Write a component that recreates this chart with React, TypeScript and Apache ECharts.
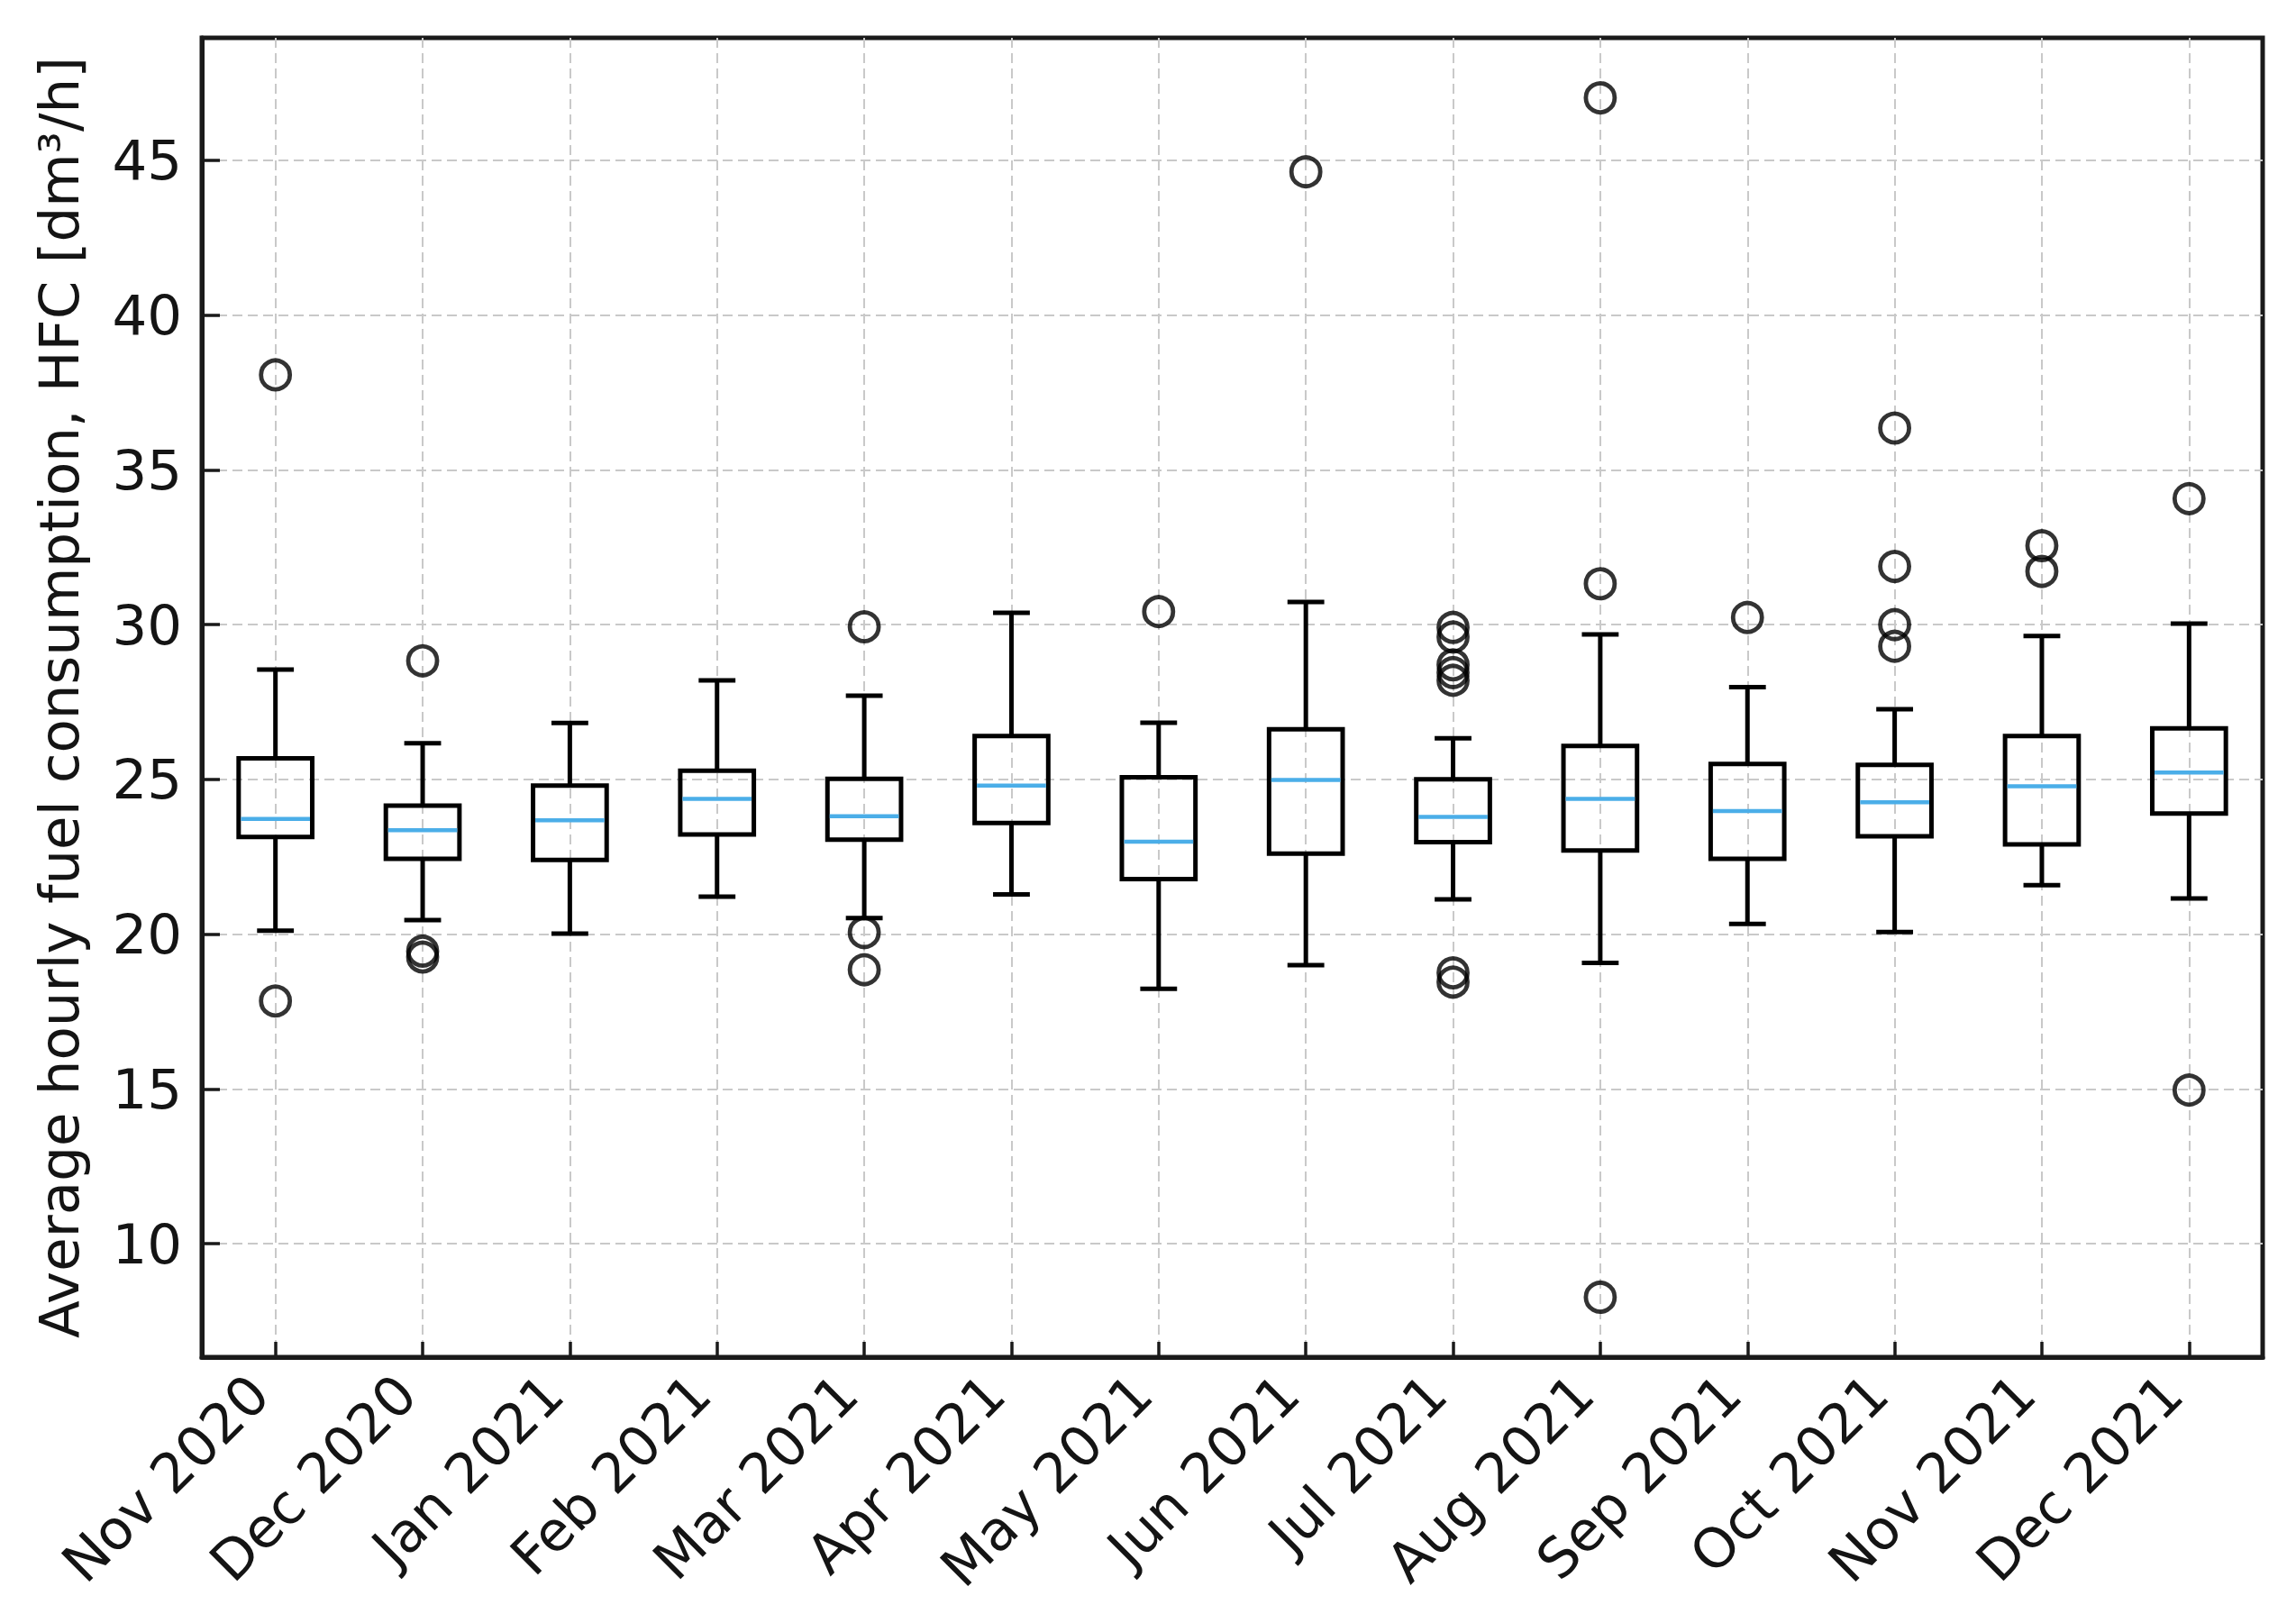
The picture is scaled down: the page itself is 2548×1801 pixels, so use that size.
import React, { useEffect, useRef } from "react";
import * as echarts from "echarts";

const categories = [
  "Nov 2020", "Dec 2020", "Jan 2021", "Feb 2021", "Mar 2021", "Apr 2021", "May 2021",
  "Jun 2021", "Jul 2021", "Aug 2021", "Sep 2021", "Oct 2021", "Nov 2021", "Dec 2021",
];
const lowerWhisker = [20.11, 20.45, 20.02, 21.21, 20.52, 21.28, 18.23, 19.0, 21.12, 19.07, 20.33, 20.07, 21.58, 21.15];
const q1 = [23.14, 22.43, 22.4, 23.22, 23.05, 23.59, 21.78, 22.6, 22.97, 22.7, 22.43, 23.16, 22.9, 23.9];
const median = [23.72, 23.36, 23.68, 24.37, 23.81, 24.8, 22.99, 24.98, 23.79, 24.37, 23.98, 24.26, 24.78, 25.22];
const q3 = [25.68, 24.15, 24.8, 25.28, 25.02, 26.4, 25.07, 26.62, 25.0, 26.08, 25.5, 25.47, 26.4, 26.65];
const upperWhisker = [28.55, 26.17, 26.82, 28.2, 27.7, 30.38, 26.83, 30.73, 26.33, 29.68, 27.98, 27.27, 29.63, 30.03];
const outliers: number[][] = [
  [38.07, 17.84],
  [28.83, 19.45, 19.26],
  [],
  [],
  [29.93, 20.05, 18.85],
  [],
  [30.42],
  [44.63],
  [29.91, 29.6, 28.7, 28.45, 28.2, 18.75, 18.45],
  [47.02, 31.32, 8.27],
  [30.23],
  [36.35, 31.88, 30.0, 29.3],
  [32.55, 31.72],
  [34.07, 14.96],
];
const yTickStep = 5;
const yAxisTitle = "Average hourly fuel consumption, HFC [dm³/h]";

const FONT = "DejaVu Sans";
const TEXT = "#141414";
const MEDIAN_COLOR = "#4BAEE8";
const GRID_COLOR = "#c9c9c9";
const FRAME = "#1a1a1a";

export default function App() {
  const ref = useRef<HTMLDivElement>(null);

  useEffect(() => {
    if (!ref.current) return;
    const chart = echarts.init(ref.current, null, { renderer: "svg" });

    const allVals: number[] = [];
    categories.forEach((_, i) => {
      allVals.push(lowerWhisker[i], upperWhisker[i], ...outliers[i]);
    });
    const dMin = Math.min(...allVals);
    const dMax = Math.max(...allVals);
    const pad = (dMax - dMin) * 0.05;

    const boxData = categories.map((_, i) => [
      i + 1, lowerWhisker[i], q1[i], median[i], q3[i], upperWhisker[i],
    ]);
    const outlierData: number[][] = [];
    outliers.forEach((arr, i) => arr.forEach((v) => outlierData.push([i + 1, v])));

    const lineW = 5;

    chart.setOption({
      animation: false,
      backgroundColor: "#ffffff",
      grid: {
        left: 224,
        right: 37,
        top: 42,
        bottom: 295,
        show: true,
        borderColor: FRAME,
        borderWidth: 5,
        backgroundColor: "transparent",
        containLabel: false,
      },
      xAxis: {
        type: "value",
        min: 0.5,
        max: categories.length + 0.5,
        minInterval: 1,
        maxInterval: 1,
        axisLine: { show: true, onZero: false, lineStyle: { color: FRAME, width: 5 } },
        axisTick: {
          show: true,
          inside: true,
          length: 17,
          lineStyle: { color: FRAME, width: 3.5 },
        },
        axisLabel: {
          show: true,
          rotate: 45,
          margin: 12,
          fontFamily: FONT,
          fontSize: 61,
          color: TEXT,
          rich: {
            t: { fontFamily: FONT, fontSize: 61, color: TEXT },
            s: { fontFamily: FONT, fontSize: 61, width: 26 },
          },
          formatter: (v: number) =>
            Number.isInteger(v) && v >= 1 && v <= categories.length ? `{t|${categories[v - 1]}}{s| }` : "",
        },
        splitLine: {
          show: true,
          showMinLine: false,
          showMaxLine: false,
          lineStyle: { color: GRID_COLOR, width: 2, type: [11, 6] },
        },
      },
      yAxis: {
        type: "value",
        min: dMin - pad,
        max: dMax + pad,
        minInterval: yTickStep,
        maxInterval: yTickStep,
        axisLine: { show: true, onZero: false, lineStyle: { color: FRAME, width: 5 } },
        axisTick: {
          show: true,
          inside: true,
          length: 20,
          lineStyle: { color: FRAME, width: 3.5 },
        },
        axisLabel: {
          margin: 22,
          fontFamily: FONT,
          fontSize: 61,
          color: TEXT,
          formatter: (v: number) =>
            Math.abs(v / yTickStep - Math.round(v / yTickStep)) < 1e-6 ? String(Math.round(v)) : "",
        },
        splitLine: {
          show: true,
          showMinLine: false,
          showMaxLine: false,
          lineStyle: { color: GRID_COLOR, width: 2, type: [11, 6] },
        },
        name: yAxisTitle,
        nameLocation: "middle",
        nameGap: 128,
        nameRotate: 90,
        nameTextStyle: { fontFamily: FONT, fontSize: 61, color: TEXT },
      },
      series: [
        {
          type: "custom",
          data: boxData,
          encode: { x: 0, y: [1, 2, 3, 4, 5] },
          z: 5,
          renderItem: (params: any, api: any) => {
            const x = api.value(0);
            const pLw = api.coord([x, api.value(1)]);
            const pQ1 = api.coord([x, api.value(2)]);
            const pMed = api.coord([x, api.value(3)]);
            const pQ3 = api.coord([x, api.value(4)]);
            const pUw = api.coord([x, api.value(5)]);
            const unit = api.size([1, 0])[0];
            const boxW = unit * 0.5;
            const capW = boxW * 0.5;
            const cx = pLw[0];
            const stroke = { stroke: "#000", lineWidth: lineW, fill: null };
            return {
              type: "group",
              children: [
                { type: "line", shape: { x1: cx, y1: pQ1[1], x2: cx, y2: pLw[1] }, style: stroke },
                { type: "line", shape: { x1: cx, y1: pQ3[1], x2: cx, y2: pUw[1] }, style: stroke },
                { type: "line", shape: { x1: cx - capW / 2, y1: pLw[1], x2: cx + capW / 2, y2: pLw[1] }, style: stroke },
                { type: "line", shape: { x1: cx - capW / 2, y1: pUw[1], x2: cx + capW / 2, y2: pUw[1] }, style: stroke },
                {
                  type: "rect",
                  shape: { x: cx - boxW / 2, y: pQ3[1], width: boxW, height: pQ1[1] - pQ3[1] },
                  style: { stroke: "#000", lineWidth: lineW, fill: "transparent" },
                },
                {
                  type: "line",
                  shape: { x1: cx - boxW / 2 + lineW / 2, y1: pMed[1], x2: cx + boxW / 2 - lineW / 2, y2: pMed[1] },
                  style: { stroke: MEDIAN_COLOR, lineWidth: 4.5 },
                },
              ],
            };
          },
        },
        {
          type: "scatter",
          data: outlierData,
          symbol: "circle",
          symbolSize: 32,
          z: 6,
          itemStyle: { color: "transparent", borderColor: "#000", borderWidth: 4.8 },
        },
      ],
    });

    return () => chart.dispose();
  }, []);

  return (
    <div
      ref={ref}
      style={{ position: "absolute", left: 0, top: 0, width: 2548, height: 1801, background: "#fff" }}
    />
  );
}
